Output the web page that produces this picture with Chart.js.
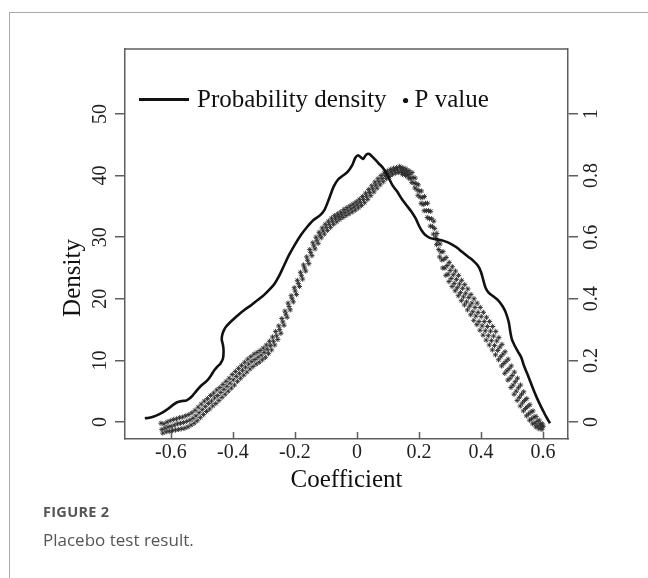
<!DOCTYPE html>
<html>
<head>
<meta charset="utf-8">
<script src="https://cdn.jsdelivr.net/npm/chart.js@4.4.1/dist/chart.umd.min.js"></script>
<style>
  html, body { margin: 0; padding: 0; background: #fff; }
  #wrap { position: relative; width: 648px; height: 578px; overflow: hidden; }
  #frame { position: absolute; left: 9px; top: 12px; right: -2px; bottom: -2px;
           border-top: 1px solid #a9a9a9; border-left: 1px solid #a9a9a9; }
  canvas { position: absolute; left: 0; top: 0; }
  .cap1 { position: absolute; left: 43px; top: 502px; line-height: 18px;
          font: 700 14.5px "Open Sans", sans-serif; color: #555; letter-spacing: 0.3px; }
  .cap2 { position: absolute; left: 43px; top: 528px; line-height: 20px;
          font: 400 17px "Open Sans", sans-serif; color: #555; }
</style>
</head>
<body>
<div id="wrap">
  <div id="frame"></div>
  <canvas id="chart" width="648" height="578"></canvas>
  <div class="cap1">FIGURE 2</div>
  <div class="cap2">Placebo test result.</div>
</div>
<script>
// tick labels
const xTicks = [-0.6, -0.4, -0.2, 0, 0.2, 0.4, 0.6];
const densityTicks = [0, 10, 20, 30, 40, 50];
const pTicks = [0, 0.2, 0.4, 0.6, 0.8, 1];

// kernel density of the placebo coefficients
const densityCoef = [
  -0.684,-0.67,-0.655,-0.64,-0.625,-0.61,-0.595,-0.58,-0.565,-0.55,
  -0.54,-0.53,-0.52,-0.51,-0.50,-0.49,-0.48,-0.47,-0.46,-0.45,
  -0.44,-0.432,-0.43,-0.432,-0.436,-0.434,-0.428,-0.42,-0.40,-0.38,
  -0.36,-0.34,-0.32,-0.30,-0.28,-0.265,-0.25,-0.235,-0.22,-0.20,
  -0.18,-0.16,-0.14,-0.12,-0.105,-0.09,-0.075,-0.06,-0.045,-0.03,
  -0.015,-0.005,0.004,0.012,0.02,0.03,0.04,0.055,0.07,0.085,
  0.10,0.115,0.13,0.145,0.16,0.175,0.19,0.20,0.21,0.22,
  0.235,0.25,0.265,0.28,0.30,0.32,0.34,0.36,0.375,0.39,
  0.40,0.408,0.415,0.425,0.44,0.455,0.47,0.48,0.49,0.495,
  0.50,0.51,0.52,0.53,0.54,0.55,0.56,0.57,0.58,0.59,
  0.60,0.61,0.617,0.623
];
const densityVal = [
  0.6,0.7,0.9,1.2,1.6,2.1,2.7,3.2,3.4,3.5,
  3.8,4.3,4.9,5.5,6.0,6.4,6.9,7.6,8.4,9.0,
  9.5,10.3,11.5,12.5,13.4,14.2,15.0,15.6,16.6,17.5,
  18.3,19.0,19.8,20.6,21.6,22.5,23.8,25.4,27.0,28.8,
  30.4,31.7,32.8,33.5,34.4,36.2,38.2,39.4,40.0,40.6,
  41.7,42.9,43.3,43.0,42.7,43.4,43.5,42.8,42.0,41.2,
  39.9,38.4,37.4,36.2,35.2,34.2,33.0,31.9,31.0,30.4,
  29.9,29.7,29.6,29.4,29.0,28.4,27.6,26.8,26.2,25.4,
  24.4,23.0,21.8,21.0,20.4,19.8,18.8,17.8,16.2,14.6,
  13.4,12.3,11.4,10.5,9.0,7.8,6.5,5.2,4.0,2.9,
  1.9,0.9,0.3,-0.2
];

// p values of the placebo estimates, [coefficient, p]
const pValuePoints = [
  [-0.632,-0.004],[-0.629,-0.024],[-0.626,-0.036],[-0.622,-0.006],[-0.619,-0.02],[-0.615,-0.032],
  [-0.612,0.0],[-0.609,-0.016],[-0.605,-0.03],[-0.602,0.004],[-0.599,-0.014],[-0.595,-0.028],
  [-0.592,0.008],[-0.589,-0.01],[-0.585,-0.026],[-0.582,0.01],[-0.579,-0.006],[-0.575,-0.024],
  [-0.572,0.014],[-0.569,-0.004],[-0.565,-0.022],[-0.562,0.016],[-0.559,-0.002],[-0.555,-0.02],
  [-0.552,0.02],[-0.549,0.002],[-0.545,-0.016],[-0.542,0.024],[-0.539,0.006],[-0.535,-0.01],
  [-0.532,0.03],[-0.529,0.012],[-0.525,-0.004],[-0.522,0.038],[-0.519,0.02],[-0.515,0.004],
  [-0.512,0.048],[-0.509,0.03],[-0.505,0.014],[-0.502,0.058],[-0.499,0.04],[-0.495,0.024],
  [-0.492,0.068],[-0.489,0.05],[-0.485,0.034],[-0.482,0.076],[-0.479,0.06],[-0.475,0.042],
  [-0.472,0.086],[-0.469,0.068],[-0.465,0.052],[-0.462,0.094],[-0.459,0.078],[-0.455,0.06],
  [-0.452,0.104],[-0.449,0.086],[-0.445,0.07],[-0.442,0.112],[-0.439,0.096],[-0.435,0.08],
  [-0.432,0.122],[-0.429,0.106],[-0.425,0.09],[-0.422,0.132],[-0.419,0.116],[-0.415,0.1],
  [-0.412,0.142],[-0.409,0.126],[-0.405,0.11],[-0.402,0.154],[-0.399,0.137],[-0.395,0.12],
  [-0.392,0.164],[-0.389,0.148],[-0.385,0.132],[-0.382,0.174],[-0.379,0.158],[-0.375,0.142],
  [-0.372,0.184],[-0.369,0.168],[-0.365,0.152],[-0.362,0.194],[-0.359,0.178],[-0.355,0.162],
  [-0.352,0.204],[-0.349,0.188],[-0.345,0.172],[-0.342,0.212],[-0.339,0.196],[-0.335,0.18],
  [-0.332,0.22],[-0.329,0.203],[-0.325,0.188],[-0.322,0.226],[-0.319,0.21],[-0.315,0.194],
  [-0.312,0.232],[-0.309,0.217],[-0.305,0.202],[-0.302,0.24],[-0.299,0.226],[-0.295,0.21],
  [-0.292,0.25],[-0.289,0.236],[-0.285,0.222],[-0.282,0.262],[-0.279,0.248],[-0.275,0.234],
  [-0.272,0.276],[-0.269,0.262],[-0.265,0.25],[-0.262,0.294],[-0.259,0.28],[-0.255,0.268],
  [-0.252,0.312],[-0.249,0.3],[-0.245,0.288],[-0.242,0.336],[-0.239,0.325],[-0.235,0.314],
  [-0.232,0.36],[-0.229,0.35],[-0.225,0.34],[-0.222,0.386],[-0.219,0.375],[-0.215,0.364],
  [-0.212,0.41],[-0.209,0.4],[-0.205,0.39],[-0.202,0.436],[-0.199,0.425],[-0.195,0.414],
  [-0.192,0.46],[-0.189,0.45],[-0.185,0.44],[-0.182,0.486],[-0.179,0.475],[-0.175,0.464],
  [-0.172,0.51],[-0.169,0.5],[-0.165,0.49],[-0.162,0.536],[-0.159,0.525],[-0.155,0.514],
  [-0.152,0.56],[-0.149,0.55],[-0.145,0.54],[-0.142,0.582],[-0.139,0.572],[-0.135,0.562],
  [-0.132,0.6],[-0.129,0.59],[-0.125,0.58],[-0.122,0.616],[-0.119,0.607],[-0.115,0.598],
  [-0.112,0.63],[-0.109,0.62],[-0.105,0.61],[-0.102,0.642],[-0.099,0.632],[-0.095,0.622],
  [-0.092,0.652],[-0.089,0.642],[-0.085,0.632],[-0.082,0.662],[-0.079,0.652],[-0.075,0.642],
  [-0.072,0.67],[-0.069,0.66],[-0.065,0.65],[-0.062,0.676],[-0.059,0.667],[-0.055,0.658],
  [-0.052,0.682],[-0.049,0.673],[-0.045,0.664],[-0.042,0.69],[-0.039,0.68],[-0.035,0.67],
  [-0.032,0.696],[-0.029,0.686],[-0.025,0.676],[-0.022,0.702],[-0.019,0.692],[-0.015,0.682],
  [-0.012,0.708],[-0.009,0.698],[-0.005,0.688],[-0.002,0.715],[0.001,0.705],[0.005,0.695],
  [0.008,0.723],[0.011,0.713],[0.015,0.703],[0.018,0.732],[0.021,0.722],[0.025,0.712],
  [0.028,0.743],[0.031,0.733],[0.035,0.723],[0.038,0.755],[0.041,0.745],[0.045,0.735],
  [0.048,0.767],[0.051,0.757],[0.055,0.747],[0.058,0.779],[0.061,0.769],[0.065,0.759],
  [0.068,0.79],[0.071,0.78],[0.075,0.77],[0.078,0.8],[0.081,0.79],[0.085,0.78],
  [0.088,0.808],[0.091,0.799],[0.095,0.79],[0.098,0.815],[0.101,0.806],[0.105,0.797],
  [0.108,0.82],[0.111,0.812],[0.115,0.804],[0.118,0.824],[0.121,0.816],[0.125,0.808],
  [0.128,0.826],[0.131,0.818],[0.135,0.81],
  [0.138,0.83],[0.141,0.822],[0.144,0.812],[0.147,0.804],
  [0.148,0.826],[0.151,0.818],[0.154,0.808],[0.157,0.8],
  [0.158,0.822],[0.161,0.812],[0.164,0.802],[0.167,0.792],
  [0.168,0.816],[0.171,0.804],[0.174,0.79],[0.177,0.778],
  [0.178,0.81],[0.181,0.794],[0.184,0.776],[0.187,0.76],
  [0.188,0.792],[0.191,0.774],[0.194,0.754],[0.197,0.736],
  [0.198,0.77],[0.201,0.75],[0.204,0.73],[0.207,0.71],
  [0.208,0.75],[0.211,0.728],[0.214,0.706],[0.217,0.686],
  [0.218,0.732],[0.221,0.71],[0.224,0.686],[0.227,0.664],
  [0.228,0.71],[0.231,0.686],[0.234,0.66],[0.237,0.636],
  [0.238,0.684],[0.241,0.66],[0.244,0.634],[0.247,0.61],
  [0.248,0.652],[0.251,0.628],[0.254,0.6],[0.257,0.576],
  [0.258,0.612],[0.261,0.588],[0.264,0.56],[0.267,0.536],
  [0.268,0.578],[0.271,0.552],[0.274,0.526],[0.277,0.5],
  [0.278,0.553],[0.281,0.528],[0.284,0.5],[0.287,0.476],
  [0.288,0.534],[0.291,0.508],[0.294,0.48],[0.297,0.456],
  [0.298,0.518],[0.301,0.492],[0.304,0.466],[0.307,0.44],
  [0.308,0.504],[0.311,0.478],[0.314,0.45],[0.317,0.426],
  [0.318,0.49],[0.321,0.463],[0.324,0.436],[0.327,0.41],
  [0.328,0.476],[0.331,0.448],[0.334,0.42],[0.337,0.394],
  [0.338,0.46],[0.341,0.434],[0.344,0.406],[0.347,0.38],
  [0.348,0.446],[0.351,0.418],[0.354,0.39],[0.357,0.364],
  [0.358,0.432],[0.361,0.404],[0.364,0.376],[0.367,0.348],
  [0.368,0.414],[0.371,0.386],[0.374,0.358],[0.377,0.33],
  [0.378,0.4],[0.381,0.372],[0.384,0.344],[0.387,0.316],
  [0.388,0.386],[0.391,0.356],[0.394,0.326],[0.397,0.298],
  [0.398,0.372],[0.401,0.342],[0.404,0.312],[0.407,0.282],
  [0.408,0.356],[0.411,0.326],[0.414,0.296],[0.417,0.266],
  [0.418,0.34],[0.421,0.31],[0.424,0.28],[0.427,0.25],
  [0.428,0.326],[0.431,0.295],[0.434,0.264],[0.437,0.234],
  [0.438,0.31],[0.441,0.279],[0.444,0.248],[0.447,0.218],
  [0.448,0.294],[0.451,0.263],[0.454,0.232],[0.457,0.202],
  [0.458,0.274],[0.461,0.243],[0.464,0.212],[0.467,0.182],
  [0.468,0.252],[0.471,0.22],[0.474,0.19],[0.477,0.158],
  [0.478,0.228],[0.481,0.197],[0.484,0.166],[0.487,0.136],
  [0.488,0.204],[0.491,0.173],[0.494,0.142],[0.497,0.112],
  [0.498,0.182],[0.501,0.151],[0.504,0.12],[0.507,0.09],
  [0.508,0.162],[0.511,0.131],[0.514,0.1],[0.517,0.07],
  [0.518,0.142],[0.521,0.111],[0.524,0.08],[0.527,0.052],
  [0.528,0.12],[0.531,0.09],[0.534,0.062],[0.537,0.036],
  [0.538,0.098],[0.541,0.07],[0.544,0.044],[0.547,0.02],
  [0.548,0.076],[0.551,0.05],[0.554,0.026],[0.557,0.006],
  [0.558,0.056],[0.561,0.032],[0.564,0.01],[0.567,-0.006],
  [0.568,0.036],[0.571,0.016],[0.574,-0.004],[0.577,-0.016],
  [0.578,0.018],[0.581,0.002],[0.584,-0.012],[0.587,-0.022],
  [0.588,0.006],[0.591,-0.006],[0.594,-0.016],[0.597,-0.024],
  [0.598,-0.006],[0.601,-0.014]
];

const serif = '"Liberation Serif", "Times New Roman", serif';
const axisColor = '#5e5e5e';
const textColor = '#222';

function fmt(v) {
  return v === 0 ? '0' : String(+v.toFixed(2));
}

// box top, inward x ticks, rotated y labels, y title and legend
const framePlugin = {
  id: 'frame',
  afterDraw(chart) {
    const ctx = chart.ctx;
    const area = chart.chartArea;
    const sx = chart.scales.x, sy = chart.scales.y, sy2 = chart.scales.y2;
    ctx.save();
    ctx.strokeStyle = axisColor;
    ctx.lineWidth = 1.5;
    ctx.beginPath();
    ctx.moveTo(area.left, area.top);
    ctx.lineTo(area.right, area.top);
    xTicks.forEach(v => {
      const px = Math.round(sx.getPixelForValue(v)) + 0.5;
      ctx.moveTo(px, area.bottom);
      ctx.lineTo(px, area.bottom - 7);
    });
    ctx.stroke();

    ctx.fillStyle = textColor;
    ctx.font = '20px ' + serif;
    ctx.textAlign = 'center';
    ctx.textBaseline = 'middle';
    densityTicks.forEach(v => {
      ctx.save();
      ctx.translate(101, sy.getPixelForValue(v));
      ctx.rotate(-Math.PI / 2);
      ctx.fillText(fmt(v), 0, 0);
      ctx.restore();
    });
    pTicks.forEach(v => {
      ctx.save();
      ctx.translate(592, sy2.getPixelForValue(v));
      ctx.rotate(-Math.PI / 2);
      ctx.fillText(fmt(v), 0, 0);
      ctx.restore();
    });

    ctx.fillStyle = '#111';
    ctx.font = '25px ' + serif;
    ctx.save();
    ctx.translate(73, 278);
    ctx.rotate(-Math.PI / 2);
    ctx.fillText('Density', 0, 0);
    ctx.restore();

    // legend
    const ds = chart.data.datasets;
    ctx.textAlign = 'left';
    ctx.textBaseline = 'alphabetic';
    ctx.strokeStyle = '#111';
    ctx.lineWidth = 3;
    ctx.beginPath();
    ctx.moveTo(139, 99.5);
    ctx.lineTo(189, 99.5);
    ctx.stroke();
    ctx.fillText(ds[0].label, 197, 106.5);
    const bx = 197 + ctx.measureText(ds[0].label).width + 19;
    ctx.beginPath();
    ctx.arc(bx, 100.5, 2.6, 0, Math.PI * 2);
    ctx.fill();
    ctx.fillText(ds[1].label, bx + 9, 106.5);
    ctx.restore();
  }
};

new Chart(document.getElementById('chart'), {
  type: 'scatter',
  data: {
    datasets: [
      {
        label: 'Probability density',
        data: densityCoef.map((x, i) => ({ x: x, y: densityVal[i] })),
        showLine: true,
        borderColor: '#111',
        borderWidth: 2.6,
        pointRadius: 0,
        tension: 0.3,
        yAxisID: 'y'
      },
      {
        label: 'P value',
        data: pValuePoints.map(p => ({ x: p[0], y: p[1] })),
        showLine: false,
        pointStyle: 'star',
        pointRadius: 2.6,
        backgroundColor: '#2a2a2a',
        borderColor: '#2a2a2a',
        borderWidth: 0.9,
        yAxisID: 'y2'
      }
    ]
  },
  options: {
    responsive: false,
    animation: false,
    devicePixelRatio: 1,
    layout: { padding: { top: 49, bottom: 78, left: 0, right: 0 } },
    plugins: { legend: { display: false }, tooltip: { enabled: false } },
    scales: {
      x: {
        type: 'linear',
        min: -0.748,
        max: 0.681,
        afterBuildTicks: s => { s.ticks = xTicks.map(v => ({ value: v })); },
        afterFit: s => { s.height = 61; },
        grid: { drawOnChartArea: false, drawTicks: false, color: axisColor },
        border: { display: true, color: axisColor, width: 1.5 },
        ticks: { padding: 2, font: { family: serif, size: 20 }, color: textColor, callback: v => fmt(v) },
        title: { display: true, text: 'Coefficient', font: { family: serif, size: 25 }, color: '#111',
                 padding: { top: 0, bottom: 5 } }
      },
      y: {
        type: 'linear',
        position: 'left',
        min: -2.76,
        max: 60.55,
        afterBuildTicks: s => { s.ticks = densityTicks.map(v => ({ value: v })); },
        afterFit: s => { s.width = 125; },
        grid: { drawOnChartArea: false, drawTicks: true, tickLength: 10, color: axisColor, lineWidth: 1.5 },
        border: { display: true, color: axisColor, width: 1.5 },
        ticks: { display: false }
      },
      y2: {
        type: 'linear',
        position: 'right',
        min: -0.0552,
        max: 1.211,
        afterBuildTicks: s => { s.ticks = pTicks.map(v => ({ value: v })); },
        afterFit: s => { s.width = 80; },
        grid: { drawOnChartArea: false, drawTicks: true, tickLength: 10, color: axisColor, lineWidth: 1.5 },
        border: { display: true, color: axisColor, width: 1.5 },
        ticks: { display: false }
      }
    }
  },
  plugins: [framePlugin]
});
</script>
</body>
</html>
